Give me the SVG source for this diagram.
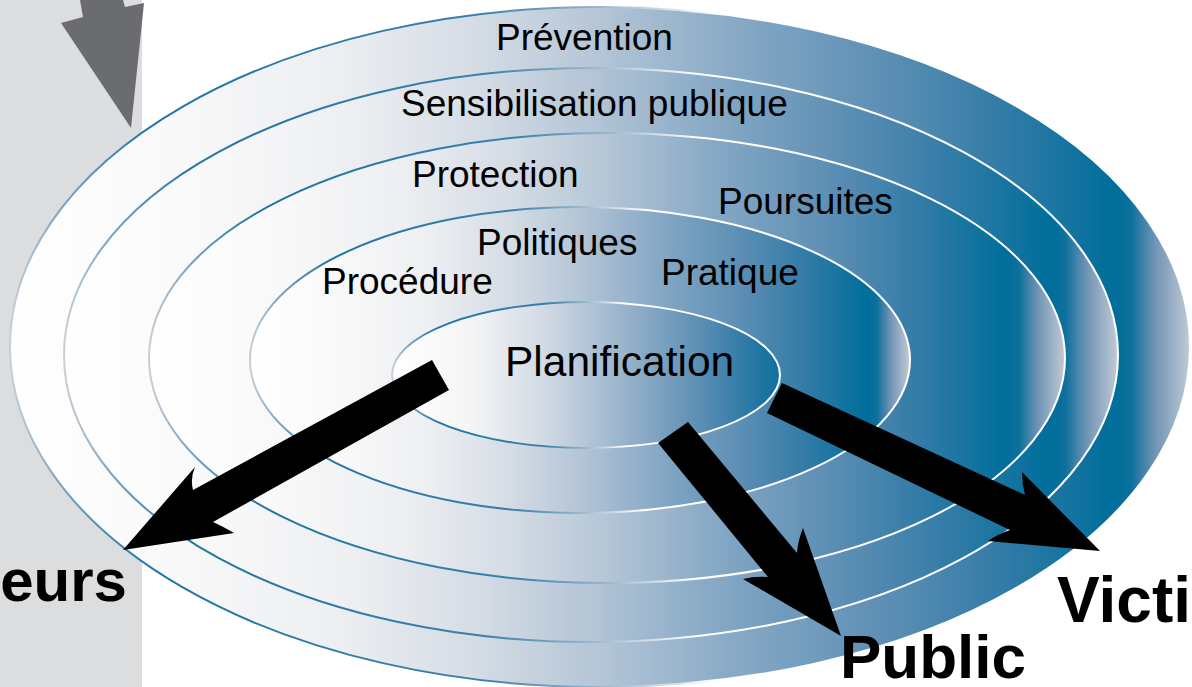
<svg xmlns="http://www.w3.org/2000/svg" width="1192" height="687" viewBox="0 0 1192 687">
  <defs>
    <!-- fill of the outer rings: white on the left, deep teal near the right, pale rim -->
    <linearGradient id="ringFill" x1="0" y1="0" x2="1" y2="0">
      <stop offset="0" stop-color="#ffffff"/>
      <stop offset="0.15" stop-color="#f8f8f8"/>
      <stop offset="0.28" stop-color="#eceef1"/>
      <stop offset="0.40" stop-color="#d3dbe4"/>
      <stop offset="0.50" stop-color="#b4c5d6"/>
      <stop offset="0.62" stop-color="#85a8c5"/>
      <stop offset="0.75" stop-color="#5a8db3"/>
      <stop offset="0.85" stop-color="#2e7aa6"/>
      <stop offset="0.935" stop-color="#006e9b"/>
      <stop offset="0.95" stop-color="#0d709c"/>
      <stop offset="0.97" stop-color="#6f93b4"/>
      <stop offset="1" stop-color="#c3cbd6"/>
    </linearGradient>
    <!-- fill of the central ellipse -->
    <linearGradient id="coreFill" x1="0" y1="0" x2="1" y2="0">
      <stop offset="0" stop-color="#ffffff"/>
      <stop offset="0.2" stop-color="#f5f5f6"/>
      <stop offset="0.4" stop-color="#d0d9e3"/>
      <stop offset="0.6" stop-color="#98b3cb"/>
      <stop offset="0.8" stop-color="#5a8db3"/>
      <stop offset="0.95" stop-color="#1f75a2"/>
      <stop offset="1" stop-color="#0e709d"/>
    </linearGradient>
    <!-- outline: grey at the far left, teal on the left half, white on the right -->
    <linearGradient id="ringStroke" x1="0" y1="0" x2="1" y2="0">
      <stop offset="0" stop-color="#c8ced6"/>
      <stop offset="0.04" stop-color="#7fa5c3"/>
      <stop offset="0.12" stop-color="#1f76a3"/>
      <stop offset="0.40" stop-color="#3a80aa"/>
      <stop offset="0.50" stop-color="#9bb6cd"/>
      <stop offset="0.60" stop-color="#ffffff"/>
      <stop offset="1" stop-color="#ffffff"/>
    </linearGradient>
    <style>
      .ring { fill: url(#ringFill); stroke: url(#ringStroke); stroke-width: 2; }
      .core { fill: url(#coreFill); stroke: url(#ringStroke); stroke-width: 2; }
      .lbl { font-family: "Liberation Sans", Arial, sans-serif; font-size: 37px; fill: #000000; }
      .title { font-family: "Liberation Sans", Arial, sans-serif; font-size: 42.5px; fill: #000000; }
      .big { font-family: "Liberation Sans", Arial, sans-serif; font-weight: bold; fill: #000000; }
      .flow { fill: #000000; }
    </style>
  </defs>

  <rect width="1192" height="687" fill="#ffffff"/>

  <!-- grey side panel with its incoming arrow -->
  <g id="panel">
    <rect x="0" y="0" width="142" height="687" fill="#dcdddf"/>
    <polygon points="80,0 83,17 61,23 131,128 144,3 125,7 123,0" fill="#6b6c70"/>
    <text class="big" x="127" y="601" font-size="60" text-anchor="end">eurs</text>
  </g>

  <!-- concentric rings, outermost first -->
  <g id="ring-prevention">
    <ellipse class="ring" cx="600" cy="347" rx="590" ry="340"/>
    <text class="lbl" x="496" y="50">Prévention</text>
  </g>
  <g id="ring-sensibilisation">
    <ellipse class="ring" cx="591" cy="355" rx="527" ry="287"/>
    <text class="lbl" x="401" y="116">Sensibilisation publique</text>
  </g>
  <g id="ring-protection">
    <ellipse class="ring" cx="607" cy="358" rx="458" ry="225"/>
    <text class="lbl" x="412" y="187">Protection</text>
    <text class="lbl" x="718" y="214">Poursuites</text>
  </g>
  <g id="ring-politiques">
    <ellipse class="ring" cx="580" cy="360" rx="330" ry="153"/>
    <text class="lbl" x="477" y="255">Politiques</text>
    <text class="lbl" x="322" y="294">Procédure</text>
    <text class="lbl" x="661" y="285">Pratique</text>
  </g>
  <g id="planification">
    <ellipse class="core" cx="586" cy="375" rx="194" ry="73"/>
    <text class="title" x="505" y="376">Planification</text>
  </g>

  <!-- thick arrows leaving the centre -->
  <g id="connectors">
    <path class="flow" d="M432,360 L193,490 Q190,478 195,467 L123,550 L234,533 Q222,526 213,522 L449,390 Z"/>
    <path class="flow" d="M658,443 L768,577 Q755,576 743,579 L841,636 L803,528 Q798,540 797,553 L688,422 Z"/>
    <path class="flow" d="M767,413 L1010,530 Q998,534 988,541 L1100,551 L1022,472 Q1022,484 1025,495 L782,383 Z"/>
  </g>

  <g id="public">
    <text class="big" x="840" y="678" font-size="62">Public</text>
  </g>
  <g id="victimes">
    <text class="big" x="1057" y="622" font-size="64">Victi</text>
  </g>
</svg>
